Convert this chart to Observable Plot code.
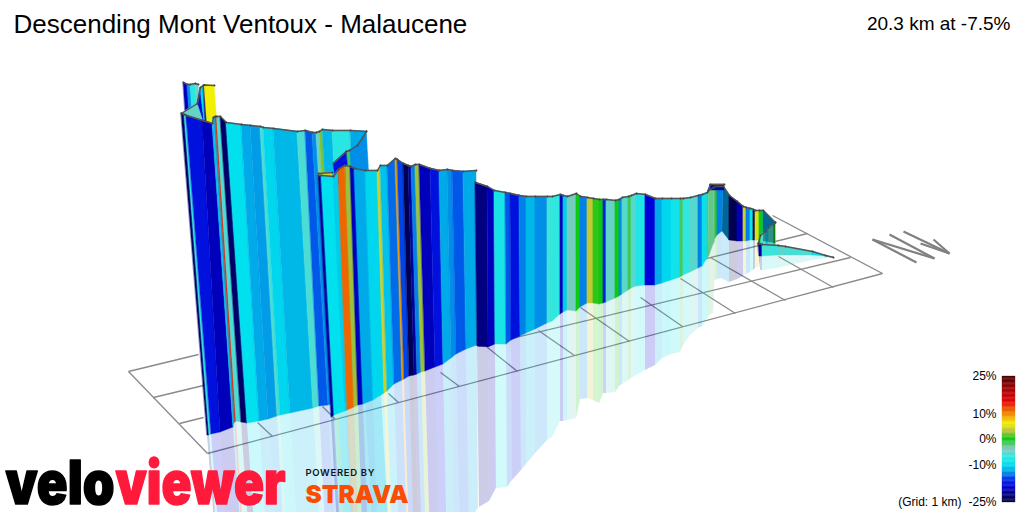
<!DOCTYPE html>
<html>
<head>
<meta charset="utf-8">
<script src="https://cdn.jsdelivr.net/npm/d3@7"></script>
<script src="https://cdn.jsdelivr.net/npm/@observablehq/plot@0.6"></script>
<style>
html,body{margin:0;padding:0;background:#fff}
#wrap{position:relative;width:1024px;height:512px;overflow:hidden}
#wrap svg{position:absolute;background:transparent}
</style>
</head>
<body>
<div id="wrap"></div>
<script>
// Gradient colour ramp
const gradeStops  = [-25,-22,-19,-16,-14,-12,-10,-7,-4,0,3,6,10,15,20,25];
const gradeColors = ["#000038","#000080","#0000d8","#0030e8","#0080e8","#00b8e8","#00e0ee","#30e8e0","#80c8b8","#10c810","#b8c040","#f0f000","#f08000","#e00000","#a00000","#400000"];
const gradeTicks  = [25,10,0,-10,-25];

// Wall rows: [top x, top y, foot x, foot y, reflection y, gradient of the strip to the next row]
const wallBackA = [[183,82,186,125,null,-20],[187,84,190,125,null,-13.5],[190,84,193,125,null,-7.5],[195,83,198,125,null,-5],[198,84,201,125,null,null]];
const wallBackB = [[197,103,204,140,null,-18],[200,87,206,140,null,-10],[203,85,206,140,null,-22],[204,84.5,207,125,null,6],[214,85,217,125,null,null]];
const wallBackC = [[181,113,181,113,null,-5],[197,103,205,127,null,null]];
const wallMain = [
[181,113,207,435,700,-23],[184,114,209,435,700,-7],[186,115,211,434,700,-18],[202,120,220,432,700,-20],
[212,123,233,427,700,-12],[213,117,233,425,700,-12],[215,116,234.5,422,700,14],[216.5,116,236,421,700,-6],
[220,116,241,422,700,-23],[226,122,247,423,700,-10],[241,124,259,421,700,-12.5],[250,125,268,419,700,-13],
[260,126,277,416,700,-6],[263,127,280,415,700,-10.5],[273,128,290,413,700,-12],[297,131,313,408,700,-6],
[305,130,319,406,700,-15],[312,132,328,405,700,-13.5],[316,132,332,404,700,-5],[319,131,335,404,700,2],
[322,129,338,403,700,-12],[332,130,347,401,700,-7.5],[350,130,365,398,700,-12.5],[366,131,381,395,700,null]];
const wallTurn = [[366,131,369,185,null,-13.5],[357,145,360,185,null,-13.5],[349,150,352,185,null,-2],[346,151,349,185,null,-18],[333,163,336,185,null,null]];
const wallTurnFoot = [[332,172,332,185,null,4],[318,173,319,185,null,null]];
const wallMiddle = [
[318,175,331,417,700,-21],[321,175,334,415,700,-10],[333,176,345,411,700,-11],[338,169,347,410,700,11],
[345,165,354,407,700,2.5],[350,166,358,405,700,-20],[354,168,363,404,700,-12.5],[365,170,373,400,700,-10.5],
[377,170,384,393,700,4],[380,165,387,391,700,-11.5],[387,165,394,384,700,-14.5],[395,158,402,380,700,9],
[397,159,404,379,700,-15.5],[403,163,409,376,700,-24],[408,165,414,375,700,-21],[411,166,417,374,700,-14],
[415,164,421,372,700,2.5],[419,164,425,371,700,-20],[430,168,435,367,600,-18],[439,170,443,364,570,-12.5],
[447,169,451,358,540,-13.5],[452,170,456,354,530,-15],[463,171,466,349,520,-12.5],[476,170,477,345,508,null]];
const wallLong = [
[475,182,477,346,507,-22],[487,186,488,347,501,-20],[494,190,495,344,488,-8.5],[505,192,506,344,487,-15],
[510,193,511,340,480,-18],[519,195,520,336,470,-14],[526,196,526,333,464,-12],[535,196,535,329,453,-13.5],
[547,196,547,323,440,-6.5],[552,196,552,321,437,-7],[560,194,560,314,421,-20],[563,195,563,312,421,-11],
[567,196,567,310,420,-4.5],[576,193,576,311,418,0],[580,196,580,307,399,-14],[587,197,587,303,398,3.5],
[593,198,593,303,400,0.5],[599,199,599,304,403,0],[603,199,603,303,393,-17],[606,199,606,302,393,-5],
[615,200,615,298,392,0],[619,199,619,296,386,-13.5],[622,197,622,294,384,-5.5],[628,196,628,290,380,-1.5],
[631,195,631,288,378,-5.5],[636,193,636,286,375,-8],[645,194,645,285,370,-19],[655,198,655,285,365,-12.5],
[662,198,662,283,358,-10.5],[671,198,671,280,354,-9],[680,198,680,277,352,-2],[683,198,683,275,345,-7],
[690,197,690,272,335,-5.5],[698,195,698,268,328,-14],[702,194,702,266,326,-9.5],[707,192,707,258,318,-2.5],
[708,190,709,255,314,-3],[713,187,713,244,313,-3],[713.5,187,714,242,280,-3],[715,186,715,238,280,0.5],[717,186,717,235,279,-14],[723,186,722,231,278,-13],
[729,195,729,240,282,-24],[737,201,737,241,279,-20],[743,206,743,241,276,4],[746,207,746,241,274,-14],
[750,208,750,240,272,-9],[753,209,753,240,270,-24],[755,210,755,240,268,5],[759,210,759,240,267,0],
[763,210,763,241,241,-13],[775,222,775,243,243,null]];
const wallCap = [[708,190,708,190,null,-20],[710,184,710,190,null,-21],[724,184,724,190,null,null]];
const wallInner = [[775,222,775,245,null,0],[773,224,773,245,null,-6],[768,227,768,245,null,-11],[765,231,765,245,null,-6],[760,235,760,245,null,0],[758,243,758,245,null,null]];
const wallEnd = [[758,243,759,256,270,-21],[762,244,762,256,270,-6.5],[778,245,778,255,268,-5.5],[785,246,785,255,266,-6],[812,251,812,255,260,-9.5],[825,255,825,256,258,-13],[833,257,833,257,257,null]];
const wallShade = [[723,186,722,231,null,null],[729,195,729,240,null,null]];
const wallShadeB = [[763,210,763,241,null,null],[775,222,775,243,null,null]];

const wallOrder = [wallBackA,wallBackB,wallBackC,wallMain,wallTurn,wallTurnFoot,wallMiddle,wallLong,wallCap,wallInner,wallEnd];

// Ground grid: [x1,y1,x2,y2]
const gridLines = [
[128,371,207,453],[207,453,882,273],[882,273,772,215],
[128,371,198,354],[153,397,203,385],[179,423,203,417],
[272,436,257,422],[335,419,322,406],[398,402,388,393],[459,386,440,372],[517,371,487,347],
[574,355,538,330],[629,341,580,307],[682,326,640,297],[735,313,680,278],[785,300,710,257],[833,287,778,256],
[478,346,850,257],[690,262,807,233]];
const compassLines = [[872,239,916,262],[872,239,934,258],[889,234,934,258],[903,231,949,253],[920,243,949,253],[933,239,949,253]];

const titleText = "Descending Mont Ventoux - Malaucene";
const statText = "20.3 km at -7.5%";
const gridNote = "(Grid: 1 km)";

const colorScale = {type:"linear",domain:gradeStops,range:gradeColors};

function strips(rows,prefix,foot){
  const out=[];
  rows.forEach((r,i)=>{
    if(i===rows.length-1) return;
    [r,rows[i+1]].forEach(p=>{
      if(foot){
        const lean=(p[2]-p[0])/(p[3]-p[1]||1);
        out.push({id:prefix+i,x1:p[2],y1:p[3],x2:p[2]+(p[4]-p[3])*lean,y2:p[4],g:r[5]});
      } else {
        out.push({id:prefix+i,x1:p[0],y1:p[1],x2:p[2],y2:p[3],g:r[5]});
      }
    });
  });
  return out;
}
const tops = rows => rows.map(r=>({x:r[0],y:r[1]}));
const reflected = [wallMain,wallMiddle,wallLong,wallEnd].flatMap((rows,k)=>strips(rows,"r"+k+"-",true));

const marks = [
  Plot.link(gridLines,{x1:d=>d[0],y1:d=>d[1],x2:d=>d[2],y2:d=>d[3],stroke:"#8a8a8a",strokeWidth:1.3}),
  Plot.area(reflected,{x1:"x1",y1:"y1",x2:"x2",y2:"y2",z:"id",fill:"g",fillOpacity:0.2}),
];
wallOrder.forEach((rows,k)=>{
  marks.push(Plot.area(strips(rows,"w"+k+"-",false),{x1:"x1",y1:"y1",x2:"x2",y2:"y2",z:"id",fill:"g",stroke:"g",strokeWidth:0.4}));
});
[wallShade,wallShadeB].forEach((rows,k)=>{
  marks.push(Plot.area(strips(rows,"s"+k+"-",false),{x1:"x1",y1:"y1",x2:"x2",y2:"y2",z:"id",fill:"#000",fillOpacity:0.35}));
});
wallOrder.forEach(rows=>{
  marks.push(Plot.line(tops(rows),{x:"x",y:"y",stroke:"#555",strokeWidth:1.4}));
  marks.push(Plot.dot(tops(rows),{x:"x",y:"y",r:0.9,fill:"#444"}));
});
marks.push(
  Plot.link(compassLines,{x1:d=>d[0],y1:d=>d[1],x2:d=>d[2],y2:d=>d[3],stroke:"#808080",strokeWidth:2.2}),
  Plot.text([titleText],{x:13,y:24,text:d=>d,textAnchor:"start",fontSize:26,fontFamily:"Liberation Sans",fill:"#000"}),
  Plot.text([statText],{x:1010,y:23,text:d=>d,textAnchor:"end",fontSize:19,fontFamily:"Liberation Sans",fill:"#000"}),
  Plot.text(["velo"],{x:5,y:484,text:d=>d,textAnchor:"start",fontSize:60,fontWeight:900,fontFamily:"Inter",fill:"#000",stroke:"#000",strokeWidth:1.6,className:"velo"}),
  Plot.text(["viewer"],{x:115,y:484,text:d=>d,textAnchor:"start",fontSize:60,fontWeight:900,fontFamily:"Inter",fill:"#ff1a3c",stroke:"#ff1a3c",strokeWidth:1.6,className:"viewer"}),
  Plot.text(["POWERED BY"],{x:305,y:472,text:d=>d,textAnchor:"start",fontSize:9.5,fontWeight:600,fontFamily:"Inter",fill:"#111",className:"pow"}),
  Plot.text(["STRAVA"],{x:305,y:494,text:d=>d,textAnchor:"start",fontSize:25,fontWeight:900,fontFamily:"Inter",fill:"#fc4c02",className:"strava"})
);

const chart = Plot.plot({
  width:1024,height:512,margin:0,
  x:{domain:[0,1024],range:[0,1024],axis:null},
  y:{domain:[0,512],range:[0,512],axis:null},
  color:colorScale,
  style:{background:"transparent"},
  marks
});
chart.style.left="0";chart.style.top="0";
d3.select(chart).select(".velo text").attr("textLength",109).attr("lengthAdjust","spacingAndGlyphs");
d3.select(chart).select(".viewer text").attr("textLength",170).attr("lengthAdjust","spacingAndGlyphs");
d3.select(chart).select(".pow text").attr("textLength",69);
d3.select(chart).select(".strava text").attr("textLength",103).attr("lengthAdjust","spacingAndGlyphs");

const legendSteps = d3.range(-25,25,0.5);
const legend = Plot.plot({
  width:144,height:152,marginLeft:122,marginRight:9,marginTop:16,marginBottom:10,
  x:{domain:[0,1],axis:null},
  y:{domain:[-25,25],reverse:false},
  color:colorScale,
  style:{background:"transparent",fontFamily:"Liberation Sans",fontSize:"12px",color:"#000"},
  marks:[
    Plot.rect(legendSteps,{x1:0,x2:1,y1:d=>d,y2:d=>d+0.5,fill:d=>d,stroke:d=>d,strokeWidth:0.3}),
    Plot.axisY({ticks:gradeTicks,tickFormat:d=>d+"%",tickSize:0,tickPadding:6,fontSize:12,label:null,fill:"#000"}),
    Plot.text([gridNote],{x:0,y:[-25],text:d=>d,textAnchor:"end",dx:-41,fontSize:12,fontFamily:"Liberation Sans",fill:"#000"})
  ]
});
legend.style.left="880px";legend.style.top="360px";
const wrap=document.getElementById("wrap");
wrap.appendChild(chart);wrap.appendChild(legend);
</script>
</body>
</html>
